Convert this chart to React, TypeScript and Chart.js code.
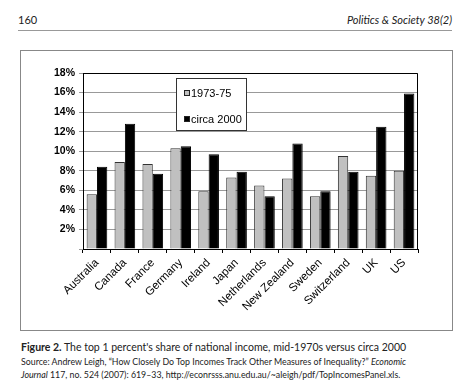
import React, { useEffect, useRef } from "react";
import { Chart, registerables } from "chart.js";

Chart.register(...registerables);

const countries = [
  "Australia", "Canada", "France", "Germany", "Ireland", "Japan",
  "Netherlands", "New Zealand", "Sweden", "Switzerland", "UK", "US",
];
const share1970s = [5.6, 8.9, 8.7, 10.3, 5.9, 7.3, 6.5, 7.2, 5.4, 9.5, 7.5, 8.0];
const share2000 = [8.4, 12.8, 7.7, 10.5, 9.7, 7.9, 5.4, 10.8, 5.9, 7.9, 12.5, 15.9];
const seriesLabels = ["1973-75", "circa 2000"];

const AX = "'Liberation Sans', Arial, sans-serif";
const SERIF_SANS = "Lato, 'Open Sans', sans-serif";

const framePlugin = {
  id: "frameAndLegend",
  afterDraw(chart: any) {
    const { ctx, chartArea } = chart;
    ctx.save();
    ctx.strokeStyle = "#000";
    ctx.lineWidth = 1;
    ctx.beginPath();
    ctx.moveTo(Math.round(chartArea.left) + 0.5, Math.round(chartArea.top) + 0.5);
    ctx.lineTo(Math.round(chartArea.right) - 0.5, Math.round(chartArea.top) + 0.5);
    ctx.lineTo(Math.round(chartArea.right) - 0.5, Math.round(chartArea.bottom));
    ctx.stroke();

    // legend box
    const bx = 155.5, by = 27.5, bw = 70, bh = 52;
    ctx.fillStyle = "#fff";
    ctx.fillRect(bx, by, bw, bh);
    ctx.strokeStyle = "#333";
    ctx.strokeRect(bx, by, bw, bh);
    const ds = chart.data.datasets;
    const rows = [42, 68];
    ctx.font = `11px ${AX}`;
    ctx.textBaseline = "middle";
    ds.forEach((d: any, i: number) => {
      const y = rows[i];
      ctx.fillStyle = d.backgroundColor;
      ctx.fillRect(163, y - 3, 6, 6);
      ctx.strokeStyle = "#222";
      ctx.strokeRect(163.5, y - 2.5, 5, 5);
      ctx.fillStyle = "#000";
      ctx.fillText(d.label, 170, y + 0.5);
    });
    ctx.restore();
  },
};

export default function App() {
  const ref = useRef<HTMLCanvasElement>(null);
  useEffect(() => {
    if (!ref.current) return;
    const chart = new Chart(ref.current, {
      type: "bar",
      data: {
        labels: countries,
        datasets: [
          {
            label: seriesLabels[0],
            data: share1970s,
            backgroundColor: "#c0c0c0",
            borderColor: "#333",
            borderWidth: 1,
          },
          {
            label: seriesLabels[1],
            data: share2000,
            backgroundColor: "#000",
            borderColor: "#000",
            borderWidth: 1,
          },
        ],
      },
      options: {
        responsive: false,
        animation: false,
        devicePixelRatio: 1,
        layout: { padding: { top: 22, right: 33, left: 0, bottom: 0 } },
        datasets: { bar: { categoryPercentage: 0.74, barPercentage: 1 } },
        plugins: { legend: { display: false }, tooltip: { enabled: false } },
        scales: {
          y: {
            min: 0,
            max: 18,
            ticks: {
              stepSize: 2,
              color: "#000",
              font: { family: AX, size: 10.5, weight: "bold" },
              padding: 4,
              callback: (v: any) => (v === 0 ? "" : v + "%"),
            },
            grid: { color: "#999", tickLength: 4, lineWidth: 1 },
            border: { color: "#000", width: 1 },
            afterFit: (s: any) => { s.width = 62; },
          },
          x: {
            ticks: {
              minRotation: 45,
              maxRotation: 45,
              color: "#000",
              font: { family: AX, size: 11.5 },
              padding: 3,
            },
            grid: { drawOnChartArea: false, color: "#000", tickLength: 4, offset: true },
            border: { color: "#000", width: 1 },
            afterFit: (s: any) => { s.height = 80; },
          },
        },
      },
      plugins: [framePlugin],
    } as any);
    return () => chart.destroy();
  }, []);

  const abs = (o: any) => ({ position: "absolute", ...o }) as React.CSSProperties;

  return (
    <div style={abs({ left: 0, top: 0, width: 459, height: 384, background: "#fff", fontFamily: SERIF_SANS, color: "#222" })}>
      <div style={abs({ left: 18, top: 13, fontSize: 11 })}>160</div>
      <div style={abs({ right: 7, top: 13, fontSize: 11, fontStyle: "italic" })}>Politics &amp; Society 38(2)</div>
      <div style={abs({ left: 18, top: 30, width: 434, height: 1, background: "#999" })} />
      <div style={abs({ left: 20, top: 50, width: 431, height: 279, border: "1px solid #888" })} />
      <canvas ref={ref} width={430} height={278} style={abs({ left: 21, top: 51 })} />
      <div style={abs({ left: 21, top: 341, fontSize: 10.5, whiteSpace: "nowrap" })}>
        <b>Figure 2.</b> The top 1 percent's share of national income, mid-1970s versus circa 2000
      </div>
      <div style={abs({ left: 21, top: 356, fontSize: 8.8, whiteSpace: "nowrap", lineHeight: "12.5px" })}>
        Source: Andrew Leigh, “How Closely Do Top Incomes Track Other Measures of Inequality?” <i>Economic</i>
        <br />
        <i>Journal</i> 117, no. 524 (2007): 619–33, http://econrsss.anu.edu.au/~aleigh/pdf/TopIncomesPanel.xls.
      </div>
    </div>
  );
}
